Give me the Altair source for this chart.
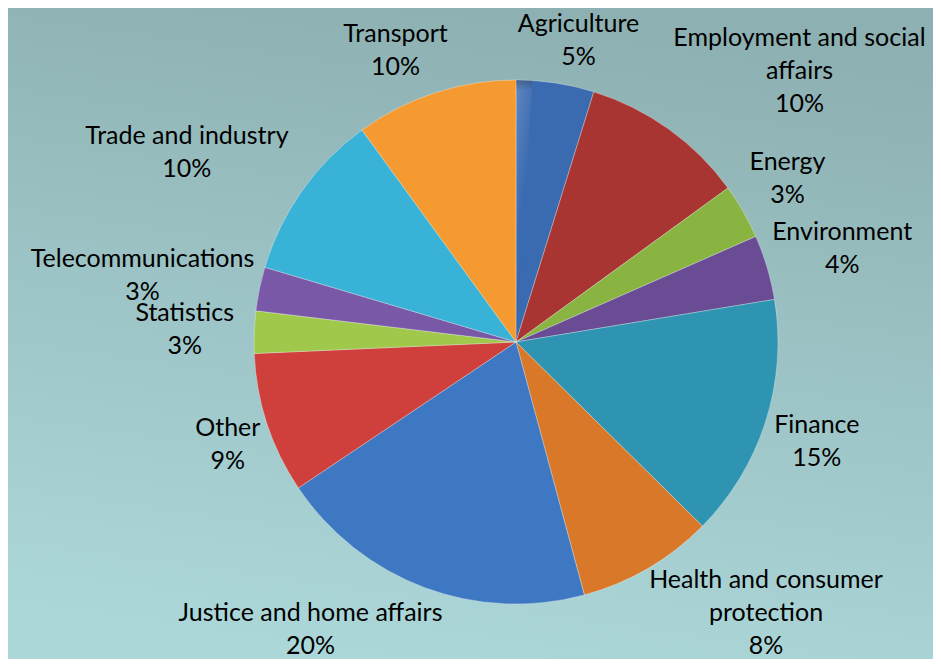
import textwrap
import altair as alt
import pandas as pd

# ---- data ----
categories = ["Agriculture", "Employment and social affairs", "Energy", "Environment",
              "Finance", "Health and consumer protection", "Justice and home affairs",
              "Other", "Statistics", "Telecommunications", "Trade and industry", "Transport"]
shares = [4.8, 10.2, 3.4, 4.0, 15.0, 8.4, 19.8, 8.7, 2.6, 2.7, 10.4, 10.0]
colors = ["#3a6ab0", "#a93533", "#8ab441", "#694c93", "#2e94b2", "#d97828",
          "#3e77c2", "#cf3f3c", "#a0c84a", "#7a58a8", "#38b2d6", "#f59a30"]

# ---- layout ----
W, H = 925, 651
CX, CY = 508, 334
R = 262
PAD = 10
CHARW = 11.9
LH = 33
KX, KY = 2.2, 1.7
EDGE = 3   # how far a label block may reach past the plot edge

df = pd.DataFrame({
    "name": categories,
    "share": shares,
    "order": list(range(len(categories))),
    "label": ["\n".join(textwrap.wrap(c, 24)) for c in categories],
})

one = alt.Data(values=[{"v": 1}])

bg = alt.Chart(one).mark_rect(
    color=alt.LinearGradient(
        gradient="linear",
        stops=[alt.GradientStop(color="#8db0b2", offset=0),
               alt.GradientStop(color="#acd7d9", offset=1)],
        x1=0.6, x2=0.4, y1=0, y2=1)
).encode(x=alt.value(0), x2=alt.value(W), y=alt.value(0), y2=alt.value(H))

shadow = alt.Chart(one).mark_arc(
    outerRadius=R + 2, color="#000000", opacity=0.10
).encode(theta=alt.Theta("v:Q"), x=alt.value(CX + 3), y=alt.value(CY + 6))

shadow2 = alt.Chart(one).mark_arc(
    outerRadius=R + 1, color="#000000", opacity=0.10
).encode(theta=alt.Theta("v:Q"), x=alt.value(CX + 2), y=alt.value(CY + 3))

pie = alt.Chart(df).mark_arc(
    outerRadius=R, stroke="#ffffff", strokeOpacity=0.3, strokeWidth=1
).encode(
    theta=alt.Theta("share:Q", stack=True),
    order=alt.Order("order:Q"),
    color=alt.Color("name:N", scale=alt.Scale(domain=categories, range=colors), legend=None),
    x=alt.value(CX), y=alt.value(CY),
)

shade = alt.Chart(one).mark_arc(
    outerRadius=R,
    color=alt.LinearGradient(
        gradient="linear",
        stops=[alt.GradientStop(color="rgba(255,255,255,0.16)", offset=0),
               alt.GradientStop(color="rgba(255,255,255,0)", offset=0.45),
               alt.GradientStop(color="rgba(0,0,0,0)", offset=0.55),
               alt.GradientStop(color="rgba(0,0,0,0.2)", offset=1)],
        x1=0.3, x2=0.7, y1=0, y2=1)
).encode(theta=alt.Theta("v:Q"), x=alt.value(CX), y=alt.value(CY))

rim = alt.Chart(one).mark_arc(
    outerRadius=R,
    color=alt.RadialGradient(
        gradient="radial",
        stops=[alt.GradientStop(color="rgba(0,0,0,0)", offset=0),
               alt.GradientStop(color="rgba(0,0,0,0)", offset=0.92),
               alt.GradientStop(color="rgba(0,0,0,0.24)", offset=1)],
        x1=0.5, y1=0.5, r1=0, x2=0.5, y2=0.5, r2=0.5)
).encode(theta=alt.Theta("v:Q"), x=alt.value(CX), y=alt.value(CY))

labels = alt.Chart(df).mark_text(
    font="Lato", fontSize=25, lineHeight=LH, lineBreak="\n",
    align="center", baseline="middle", color="#000000"
).transform_joinaggregate(
    total="sum(share)"
).transform_window(
    cum="sum(share)", sort=[alt.SortField("order")], frame=[None, 0]
).transform_calculate(
    a="2*PI*(datum.cum - datum.share/2)/datum.total",
    tw=f"{CHARW}*(indexof(datum.label, '\\n') >= 0 ? indexof(datum.label, '\\n') : length(datum.label))",
    n="indexof(datum.label, '\\n') >= 0 ? 3 : 2",
).transform_calculate(
    px=f"{CX} + {R + PAD}*sin(datum.a) + clamp({KX}*sin(datum.a), -1, 1)*datum.tw/2",
    cy=f"{CY} - {R + PAD}*cos(datum.a) - clamp({KY}*cos(datum.a), -1, 1)*datum.n*{LH}/2",
).transform_calculate(
    cyc=(f"clamp(datum.cy, datum.n*{LH}/2 - {EDGE}, {H} + {EDGE} - datum.n*{LH}/2)"),
).transform_calculate(
    py=f"datum.cyc - (datum.n - 1)*{LH}/2",
    txt="datum.label + '\\n' + format(datum.share/datum.total, '.0%')",
).encode(
    x=alt.X("px:Q", scale=None),
    y=alt.Y("py:Q", scale=None),
    text=alt.Text("txt:N"),
)

chart = alt.layer(bg, shadow, shadow2, pie, shade, rim, labels).properties(
    width=W, height=H, padding=0, autosize="none"
).configure_view(stroke=None)

chart.save("out.html", embed_options={"renderer": "svg", "actions": False})
